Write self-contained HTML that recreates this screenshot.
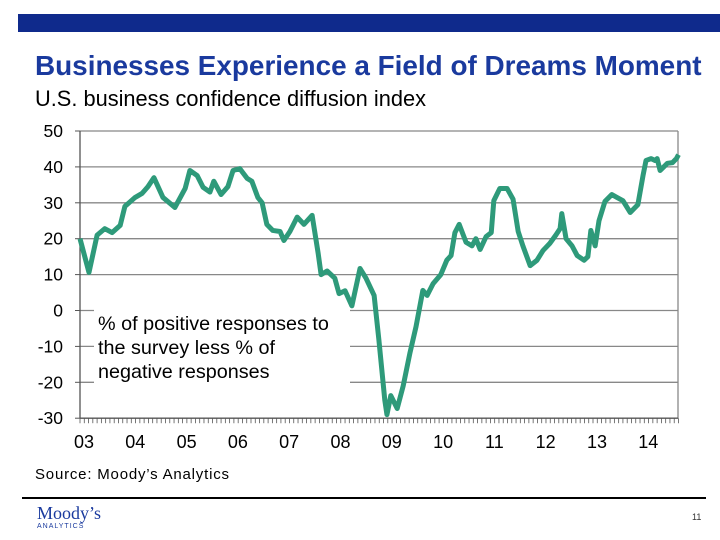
<!DOCTYPE html>
<html><head><meta charset="utf-8"><style>
body{margin:0;width:720px;height:540px;background:#fff;position:relative;overflow:hidden;font-family:"Liberation Sans",sans-serif}
.abs{position:absolute;white-space:nowrap}
</style></head><body>
<div class="abs" style="left:18px;top:14px;width:702px;height:18px;background:#0f2a8c"></div>
<div class="abs" style="left:35px;top:50px;font-size:27.9px;font-weight:bold;color:#1a3a9e">Businesses Experience a Field of Dreams Moment</div>
<div class="abs" style="left:35px;top:86px;font-size:21.8px;color:#000">U.S. business confidence diffusion index</div>
<svg class="abs" style="left:0;top:0" width="720" height="540">
<g id="grid"></g><g id="axes"></g>
<rect x="94" y="306" width="256" height="80" fill="#fff"/>
<text x="98" y="330" font-size="19.8" font-family="Liberation Sans"><tspan x="98">% of positive responses to</tspan><tspan x="98" dy="24">the survey less % of</tspan><tspan x="98" dy="24">negative responses</tspan></text>
<g id="series"></g>
</svg>
<div class="abs" style="left:35px;top:466px;font-size:15px;color:#000;letter-spacing:0.8px">Source: Moody’s Analytics</div>
<div class="abs" style="left:22px;top:497px;width:684px;height:2px;background:#000"></div>
<div class="abs" style="left:37px;top:504px;font-family:'Liberation Serif',serif;font-size:18px;color:#1a3a9e;line-height:18px">Moody’s<div style="font-family:'Liberation Sans';font-size:7px;letter-spacing:1px;line-height:9px">ANALYTICS</div></div>
<div class="abs" style="left:692px;top:512px;font-size:9px;color:#333">11</div>
<script>
const yTicks=[50,40,30,20,10,0,-10,-20,-30];
const yearLabels=["03","04","05","06","07","08","09","10","11","12","13","14"];
const months=[0,2.1,4,5.8,7.5,9.4,10.5,12.9,14.5,15.9,17.3,19.4,22.2,24.6,25.7,27.4,28.8,30.4,31.3,33,34.6,35.8,37.4,39.1,40.2,41.6,42.6,43.7,45.1,46.8,47.7,49.1,50.8,52.4,54.3,55.7,56.4,57.8,59.6,60.6,62,63.6,65.5,66.9,68.8,69.9,71.3,71.8,72.7,74.2,75.6,77.2,78.6,80.2,81.2,82.6,84.4,85.8,86.8,87.7,88.7,90.3,91.7,92.6,93.6,95,96.2,96.8,98.2,99.9,101.3,102.5,103.6,105.3,106.9,108.3,109.9,111.3,112.3,112.7,113.7,115.1,116.3,117.9,118.8,119.5,120.5,121.4,122.8,124.4,125.6,127,128.7,130.5,131.7,132.4,133.6,134.5,135,135.7,137.4,138.6,139.5,140];
const values=[20,10.6,21,22.8,21.7,23.7,29,31.5,32.6,34.5,37,31.5,28.7,34,39,37.6,34.3,33,36,32.3,34.5,39,39.5,36.8,36,31.5,30,24,22.3,22,19.5,22,26,24,26.5,16,10,11,9,4.7,5.5,1.3,11.7,9,4.2,-8,-25,-29,-23.7,-27.3,-21,-11.7,-4.5,5.6,4.2,7.5,10,14,15.3,21.7,24,19,18,20,17,20.6,21.7,30.6,34,34,31,22,18,12.5,14,16.7,18.7,21,22.8,27,20,18,15.3,14,15,22.3,18,25,30.4,32.3,31.5,30.6,27.3,29.5,37.6,41.8,42.3,41.8,42.3,39,41,41.2,42.3,43.4];
const X0=80,X1=678,PX=4.275,Y50=131,PU=3.59;
const xs=m=>X0+m*PX, ys=v=>Y50+(50-v)*PU;
const NS="http://www.w3.org/2000/svg";
function mk(t,a,p){const e=document.createElementNS(NS,t);for(const k in a)e.setAttribute(k,a[k]);p.appendChild(e);return e;}
const grid=document.getElementById('grid'),axes=document.getElementById('axes'),ser=document.getElementById('series');
yTicks.forEach(v=>{
 if(v>-30){const l=mk('line',{x1:X0,x2:X1,y1:ys(v),y2:ys(v),stroke:'#888','stroke-width':1.3},grid);
 
 }
 mk('line',{x1:X0-5,x2:X0,y1:ys(v),y2:ys(v),stroke:'#555'},axes);
 const t=mk('text',{x:63,y:ys(v)+6,'text-anchor':'end','font-size':17.5,'font-family':'Liberation Sans'},axes);
 t.textContent=v;
 
 
});
mk('line',{x1:X0,x2:X0,y1:ys(50),y2:ys(-30),stroke:'#555','stroke-width':1.3},axes);
mk('line',{x1:X1,x2:X1,y1:ys(50),y2:ys(-30),stroke:'#888','stroke-width':1.3},axes);
mk('line',{x1:X0,x2:X1,y1:ys(-30),y2:ys(-30),stroke:'#555','stroke-width':1.3},axes);
for(let m=0;m<=140;m++){mk('line',{x1:xs(m),x2:xs(m),y1:ys(-30),y2:ys(-30)+5,stroke:'#555','stroke-width':0.8},axes);}
yearLabels.forEach((lab,i)=>{
 const t=mk('text',{x:xs(i*12)+4,y:448,'text-anchor':'middle','font-size':18,'font-family':'Liberation Sans'},axes);
 t.textContent=lab;
 
 
});
const p=mk('polyline',{points:months.map((m,i)=>xs(m)+','+ys(values[i])).join(' '),fill:'none',stroke:'#2e9a7a','stroke-width':5,'stroke-linejoin':'round'},ser);


</script>
</body></html>
